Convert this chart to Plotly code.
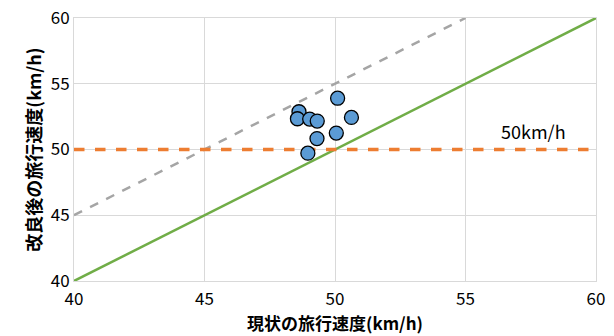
import plotly.graph_objects as go

current_speed = [48.62, 48.56, 49.03, 49.32, 50.10, 50.63, 50.05, 49.31, 48.96]
improved_speed = [52.87, 52.34, 52.31, 52.16, 53.90, 52.44, 51.25, 50.83, 49.72]

equal_x = [40, 60]
equal_y = [40, 60]
plus5_x = [40, 55]
plus5_y = [45, 60]
limit_x = [40, 60]
limit_y = [50, 50]
limit_label = "50km/h"
ticks = [40, 45, 50, 55, 60]

font = "Noto Sans CJK JP"

fig = go.Figure()
fig.add_trace(go.Scatter(x=plus5_x, y=plus5_y, mode="lines",
                         line=dict(color="#A5A5A5", width=2.5, dash="dash"), hoverinfo="skip"))
fig.add_trace(go.Scatter(x=equal_x, y=equal_y, mode="lines",
                         line=dict(color="#70AD47", width=2.5), hoverinfo="skip"))
fig.add_trace(go.Scatter(x=limit_x, y=limit_y, mode="lines",
                         line=dict(color="#ED7D31", width=3.5, dash="dash"), hoverinfo="skip"))
fig.add_trace(go.Scatter(x=current_speed, y=improved_speed, mode="markers",
                         marker=dict(size=14, color="#5B9BD5", line=dict(color="black", width=1.3))))

fig.add_annotation(x=57.6, y=51.4, text=limit_label, showarrow=False,
                   font=dict(family=font, size=18, color="black"))

axis_common = dict(range=[40, 60], tickvals=ticks, showgrid=True, gridcolor="#D9D9D9",
                   gridwidth=1, zeroline=False, showline=True, linecolor="#D9D9D9",
                   mirror=True, automargin=False, ticklabeloverflow="allow",
                   tickfont=dict(family=font, size=17, color="black"))

fig.update_xaxes(**axis_common, ticks="outside", ticklen=3, tickcolor="rgba(0,0,0,0)",
                 title=dict(text="<b>現状の旅行速度(km/h)</b>", font=dict(family=font, size=17, color="black"),
                            standoff=0))
fig.update_yaxes(**axis_common, ticks="",
                 title=dict(text="<b>改良後の旅行速度(km/h)</b>", font=dict(family=font, size=18, color="black"),
                            standoff=4))

fig.update_layout(width=614, height=336, showlegend=False,
                  margin=dict(l=66, r=26, t=10, b=63),
                  plot_bgcolor="white", paper_bgcolor="white")

fig.write_html("out.html")
